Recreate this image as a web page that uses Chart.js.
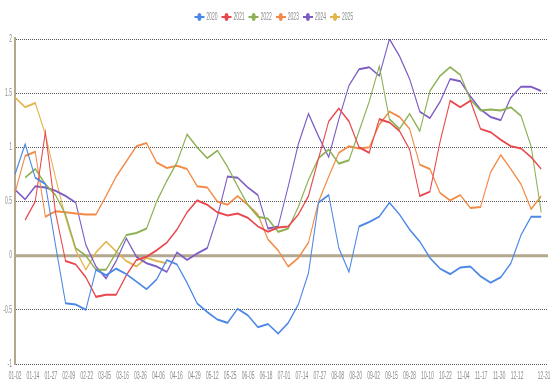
<!DOCTYPE html>
<html>
<head>
<meta charset="utf-8">
<script src="https://cdn.jsdelivr.net/npm/chart.js@4.4.1/dist/chart.umd.min.js"></script>
<style>
  html, body { margin: 0; padding: 0; background: #fff; overflow: hidden; }
</style>
</head>
<body>
<!-- drawn at double width and shown squeezed, like the original picture -->
<canvas id="myChart" width="1100" height="392" style="width:550px;height:392px;display:block"></canvas>
<script>
const years = ['2020', '2021', '2022', '2023', '2024', '2025'];
const colors = ['#4b87e6', '#e8474b', '#8db052', '#f28a45', '#7c5cc3', '#e2b54c'];

// axis labels (every ~9 trading days), last one sits a bit further out
const tickLabels = ['01-02', '01-14', '01-27', '02-09', '02-22', '03-05', '03-16', '03-26', '04-06', '04-16',
  '04-29', '05-12', '05-25', '06-05', '06-18', '07-01', '07-14', '07-27', '08-08', '08-20',
  '09-02', '09-15', '09-28', '10-10', '10-22', '11-04', '11-17', '11-30', '12-12', '12-31'];
const weeksPerLabel = 1.772;

// weekly values, one per week of the year
const s2020 = [0.75, 1.03, 0.72, 0.66, 0.10, -0.44, -0.45, -0.50, -0.13, -0.18,
  -0.12, -0.17, -0.24, -0.31, -0.22, -0.04, -0.08, -0.25, -0.44, -0.52,
  -0.59, -0.62, -0.49, -0.55, -0.66, -0.63, -0.72, -0.62, -0.45, -0.16,
  0.49, 0.56, 0.07, -0.15, 0.27, 0.31, 0.36, 0.49, 0.38, 0.24,
  0.13, -0.02, -0.12, -0.17, -0.11, -0.10, -0.19, -0.25, -0.20, -0.07,
  0.19, 0.36, 0.36];
const s2021 = [null, 0.33, 0.50, 1.14, 0.40, -0.05, -0.08, -0.20, -0.38, -0.36,
  -0.36, -0.18, -0.04, -0.01, 0.05, 0.12, 0.24, 0.40, 0.51, 0.47,
  0.40, 0.37, 0.39, 0.35, 0.27, 0.22, 0.26, 0.27, 0.38, 0.55,
  0.90, 1.24, 1.36, 1.24, 1.00, 0.95, 1.26, 1.23, 1.15, 0.98,
  0.55, 0.59, 1.05, 1.43, 1.37, 1.43, 1.17, 1.14, 1.07, 1.01,
  0.99, 0.91, 0.80];
const s2022 = [null, 0.72, 0.80, 0.66, 0.56, 0.38, 0.07, 0.00, -0.13, -0.13,
  0.03, 0.19, 0.21, 0.25, 0.50, 0.69, 0.86, 1.12, 1.00, 0.90,
  0.97, 0.82, 0.64, 0.47, 0.36, 0.34, 0.22, 0.25, 0.45, 0.70,
  0.90, 0.98, 0.85, 0.88, 1.15, 1.42, 1.75, 1.26, 1.17, 1.31,
  1.15, 1.52, 1.66, 1.74, 1.67, 1.44, 1.34, 1.35, 1.34, 1.37,
  1.29, 1.01, 0.40];
const s2023 = [0.58, 0.92, 0.96, 0.36, 0.41, 0.40, 0.39, 0.38, 0.38, 0.55,
  0.73, 0.87, 1.01, 1.04, 0.86, 0.81, 0.83, 0.80, 0.64, 0.63,
  0.50, 0.47, 0.55, 0.47, 0.38, 0.15, 0.05, -0.10, -0.02, 0.12,
  0.50, 0.73, 0.95, 1.01, 0.99, 1.00, 1.21, 1.33, 1.28, 1.17,
  0.84, 0.80, 0.58, 0.51, 0.56, 0.44, 0.45, 0.77, 0.93, 0.80,
  0.66, 0.43, 0.55];
const s2024 = [0.61, 0.52, 0.64, 0.63, 0.60, 0.55, 0.49, 0.10, -0.10, -0.21,
  -0.05, 0.16, -0.01, -0.07, -0.10, -0.15, 0.03, -0.04, 0.02, 0.07,
  0.36, 0.73, 0.72, 0.63, 0.56, 0.25, 0.27, 0.64, 1.03, 1.31,
  1.10, 0.91, 1.26, 1.57, 1.72, 1.74, 1.66, 2.00, 1.84, 1.63,
  1.33, 1.27, 1.42, 1.63, 1.61, 1.47, 1.35, 1.28, 1.25, 1.46,
  1.56, 1.56, 1.52];
const s2025 = [1.46, 1.37, 1.41, 1.12, 0.72, 0.35, 0.05, -0.13, 0.03, 0.13,
  0.04, -0.05, -0.10, -0.02, -0.05, -0.07];

const series = [s2020, s2021, s2022, s2023, s2024, s2025];
const axisColor = '#b4a78f';
const textColor = '#8a8a8a';

Chart.defaults.font.family = "'Liberation Sans', Arial, sans-serif";
Chart.defaults.font.size = 10;

// little line + dot marker for the legend
function legendIcon(color) {
  const c = document.createElement('canvas');
  c.width = 20;
  c.height = 10;
  const g = c.getContext('2d');
  g.strokeStyle = color;
  g.lineWidth = 2;
  g.beginPath();
  g.moveTo(0, 5);
  g.lineTo(20, 5);
  g.stroke();
  g.fillStyle = color;
  g.beginPath();
  g.arc(10, 5, 4, 0, Math.PI * 2);
  g.fill();
  return c;
}
const icons = colors.map(legendIcon);

const zeroLine = {
  id: 'zeroLine',
  beforeDatasetsDraw(chart) {
    const { ctx, chartArea, scales } = chart;
    const y = scales.y.getPixelForValue(0);
    ctx.save();
    ctx.strokeStyle = axisColor;
    ctx.lineWidth = 3;
    ctx.beginPath();
    ctx.moveTo(chartArea.left, y);
    ctx.lineTo(chartArea.right, y);
    ctx.stroke();
    ctx.restore();
  }
};

const legendSpace = {
  id: 'legendSpace',
  beforeInit(chart) {
    const fit = chart.legend.fit;
    chart.legend.fit = function () {
      fit.bind(chart.legend)();
      this.height += 7;
    };
  }
};

const ctx = document.getElementById('myChart').getContext('2d');
const myChart = new Chart(ctx, {
  type: 'line',
  data: {
    datasets: years.map((year, i) => ({
      label: year,
      data: series[i].map((v, w) => ({ x: w, y: v })),
      borderColor: colors[i],
      backgroundColor: colors[i],
      borderWidth: 2,
      pointRadius: 0,
      tension: 0,
      fill: false
    }))
  },
  options: {
    responsive: false,
    animation: false,
    devicePixelRatio: 1,
    layout: { padding: { top: 3, right: 4, left: 0, bottom: 0 } },
    plugins: {
      tooltip: { enabled: false },
      legend: {
        position: 'top',
        labels: {
          usePointStyle: true,
          pointStyleWidth: 18,
          boxHeight: 10,
          padding: 9,
          color: textColor,
          font: { size: 10 },
          generateLabels: chart => {
            const items = Chart.defaults.plugins.legend.labels.generateLabels(chart);
            items.forEach((item, i) => { item.pointStyle = icons[i]; });
            return items;
          }
        }
      }
    },
    scales: {
      x: {
        type: 'linear',
        min: 0,
        max: 52.67,
        grid: { display: false, drawTicks: false },
        border: { display: false },
        afterBuildTicks: axis => {
          axis.ticks = tickLabels.map((t, k) => ({
            value: (k < tickLabels.length - 1 ? k : k + 0.5) * weeksPerLabel
          }));
        },
        afterFit: axis => {
          axis.height = 28;
          axis.paddingLeft = 0;
          axis.paddingRight = 0;
        },
        ticks: {
          autoSkip: false,
          maxRotation: 0,
          padding: 6,
          color: textColor,
          callback: (value, index) => tickLabels[index]
        }
      },
      y: {
        min: -1,
        max: 2,
        afterFit: axis => { axis.width = 30; },
        ticks: {
          stepSize: 0.5,
          padding: 6,
          color: textColor,
          callback: value => String(value)
        },
        grid: {
          drawTicks: false,
          lineWidth: 1,
          color: c => (c.tick && c.tick.value === 0 ? 'rgba(0,0,0,0)' : '#555')
        },
        border: { color: axisColor, width: 4, dash: [2, 2] }
      }
    }
  },
  plugins: [zeroLine, legendSpace]
});
</script>
</body>
</html>
